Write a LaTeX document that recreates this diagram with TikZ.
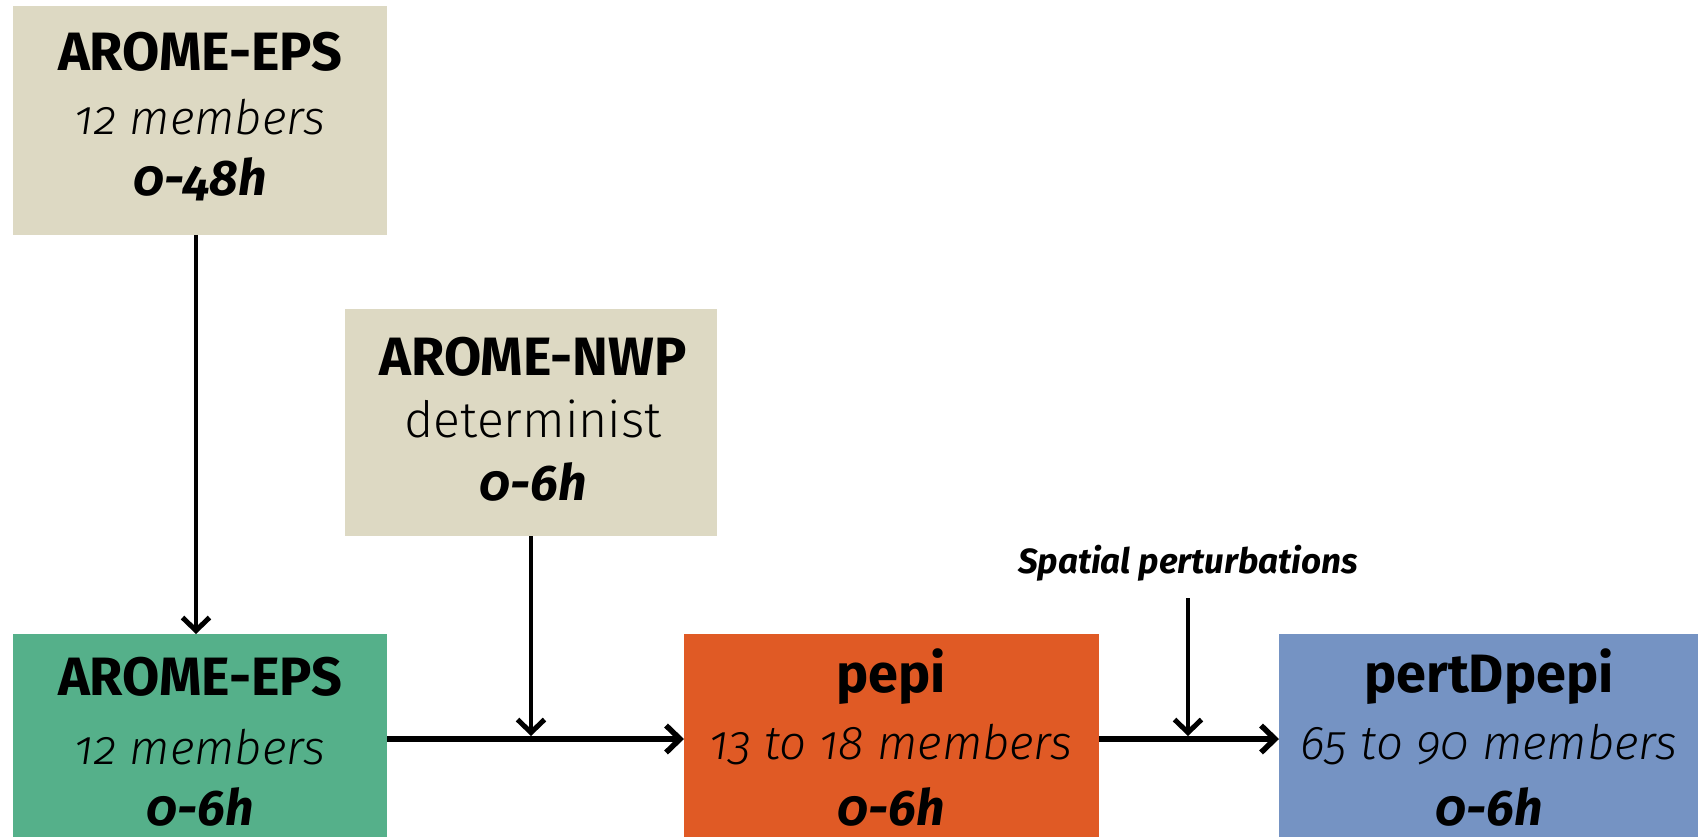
\documentclass[tikz,border=0pt]{standalone}
\usepackage{fontspec}
\setmainfont{Fira Sans}[Numbers=OldStyle]
\newfontfamily\lightfont{Fira Sans Light}[Numbers=OldStyle]
\usetikzlibrary{arrows.meta}
\definecolor{beige}{HTML}{DDD9C3}
\definecolor{greenbox}{HTML}{55B08A}
\definecolor{orangebox}{HTML}{E05A25}
\definecolor{bluebox}{HTML}{7593C3}
\tikzset{
  boxnode/.style={draw=none,inner sep=0pt,outer sep=0pt},
  titletext/.style={inner sep=0pt,font=\fontsize{54}{54}\selectfont\bfseries},
  subtext/.style={inner sep=0pt,font=\fontsize{47.5}{47.5}\selectfont\lightfont\itshape},
  uptext/.style={inner sep=0pt,font=\fontsize{50}{50}\selectfont\lightfont},
  hourtext/.style={inner sep=0pt,font=\fontsize{50}{50}\selectfont\bfseries\itshape},
  labeltext/.style={inner sep=0pt,font=\fontsize{35}{35}\selectfont\bfseries\itshape},
  varr/.style={line width=4.5pt,-{Straight Barb[length=13pt,width=27pt,line width=5pt]}},
  harr/.style={line width=6pt,-{Straight Barb[length=14pt,width=27pt,line width=5.5pt]}}
}
\begin{document}
\begin{tikzpicture}[x=1pt,y=-1pt]
\useasboundingbox (0,0) rectangle (1698,837);
% boxes
\fill[beige] (13,6) rectangle (387,235);
\node[boxnode,minimum width=374pt,minimum height=229pt] (eps) at (200,120.5) {};
\fill[beige] (345,309) rectangle (717,536);
\node[boxnode,minimum width=372pt,minimum height=227pt] (nwp) at (531,422.5) {};
\fill[greenbox] (13,634) rectangle (387,837);
\node[boxnode,minimum width=374pt,minimum height=203pt] (epsb) at (200,735.5) {};
\fill[orangebox] (684,634) rectangle (1099,837);
\node[boxnode,minimum width=415pt,minimum height=203pt] (pepi) at (891.5,735.5) {};
\fill[bluebox] (1279,634) rectangle (1698,837);
\node[boxnode,minimum width=419pt,minimum height=203pt] (pert) at (1488.5,735.5) {};
% texts
\node[titletext] (t1) at (200,52) {AROME-EPS};
\node[subtext] (t2) at (200,117) {12 members};
\node[hourtext] (t3) at (200,179) {0-48h};
\node[titletext] (n1) at (533,357) {AROME-NWP};
\node[uptext] (n2) at (533,419) {determinist};
\node[hourtext] (n3) at (533,482) {0-6h};
\node[titletext] (g1) at (200,677) {AROME-EPS};
\node[subtext] (g2) at (200,747) {12 members};
\node[hourtext] (g3) at (200,807) {0-6h};
\node[titletext] (p1) at (891,677) {pepi};
\node[subtext] (p2) at (891,745) {13 to 18 members};
\node[hourtext] (p3) at (891,807) {0-6h};
\node[titletext] (q1) at (1489,677) {pertDpepi};
\node[subtext] (q2) at (1489,745) {65 to 90 members};
\node[hourtext] (q3) at (1489,807) {0-6h};
\node[labeltext] (sp) at (1188,563) {Spatial perturbations};
% connectors
\coordinate (j1) at (531,736);
\coordinate (j2) at (1188,736);
\coordinate (h1) at (531,739);
\coordinate (s0) at (1188,598);
\draw[varr] (196,235) coordinate (a0) -- (a0 |- epsb.north);
\draw[varr] (nwp.south) -- (j1);
\draw[harr] (epsb.east |- h1) -- (pepi.west |- h1);
\draw[varr] (s0) -- (j2);
\draw[harr] (pepi.east |- h1) -- (pert.west |- h1);
\end{tikzpicture}
\end{document}
